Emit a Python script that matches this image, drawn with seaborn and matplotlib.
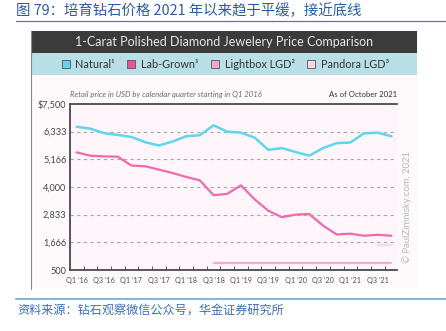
import numpy as np
import pandas as pd
import seaborn as sns
import matplotlib
matplotlib.use("Agg")
import matplotlib.pyplot as plt
from matplotlib.patches import Rectangle
from matplotlib.lines import Line2D

# ---- data -------------------------------------------------------------
quarters = ["Q1 ’16", "Q2 ’16", "Q3 ’16", "Q4 ’16",
            "Q1 ’17", "Q2 ’17", "Q3 ’17", "Q4 ’17",
            "Q1 ’18", "Q2 ’18", "Q3 ’18", "Q4 ’18",
            "Q1 ’19", "Q2 ’19", "Q3 ’19", "Q4 ’19",
            "Q1 ’20", "Q2 ’20", "Q3 ’20", "Q4 ’20",
            "Q1 ’21", "Q2 ’21", "Q3 ’21", "Q4 ’21"]
natural = [6540, 6460, 6270, 6195, 6110, 5890, 5750, 5915, 6140, 6185, 6600, 6335,
           6290, 6085, 5570, 5640, 5475, 5320, 5640, 5850, 5875, 6265, 6290, 6140]
lab_grown = [5460, 5320, 5290, 5280, 4905, 4875, 4735, 4590, 4425, 4280, 3655, 3710,
             4070, 3485, 3000, 2725, 2835, 2860, 2375, 2000, 2030, 1945, 1985, 1945]
lightbox_start = 10      # Lightbox LGD launched Q3 '18
lightbox = [800] * 14
pandora_start = 22       # Pandora LGD from Q3 '21
pandora = [1550, 1550]

series_names = ["Natural¹", "Lab-Grown¹", "Lightbox LGD²", "Pandora LGD³"]
series_colors = ["#5fd6ec", "#f06aae", "#f8a9cf", "#fbd6e7"]
square_colors = ["#5fd6ec", "#ee4f9b", "#f6a6cb", "#fbd7e6"]
series_widths = [1.8, 1.6, 1.6, 1.6]

y_ticks = [500, 1666.67, 2833.33, 4000, 5166.67, 6333.33, 7500]
y_tick_labels = ["500", "1,666", "2,833", "4,000", "5,166", "6,333", "$7,500"]

title_cn = "图 79：培育钻石价格 2021 年以来趋于平缓，接近底线"
source_cn = "资料来源：钻石观察微信公众号，华金证券研究所"
header = "1-Carat Polished Diamond Jewelery Price Comparison"
subtitle = "Retail price in USD by calendar quarter starting in Q1 2016"
as_of = "As of October 2021"
credit = "© PaulZimnisky.com, 2021"

frames = [
    pd.DataFrame({"q": np.arange(len(natural)), "price": natural, "series": series_names[0]}),
    pd.DataFrame({"q": np.arange(len(lab_grown)), "price": lab_grown, "series": series_names[1]}),
    pd.DataFrame({"q": lightbox_start + np.arange(len(lightbox)), "price": lightbox, "series": series_names[2]}),
    pd.DataFrame({"q": pandora_start + np.arange(len(pandora)), "price": pandora, "series": series_names[3]}),
]
df = pd.concat(frames, ignore_index=True)

# ---- style ------------------------------------------------------------
sns.set_theme(style="white")
plt.rcParams["font.family"] = ["Lato", "DejaVu Sans"]

W, H = 446, 331
fig = plt.figure(figsize=(W / 100, H / 100), dpi=100)
fig.patch.set_facecolor("white")


def fx(px):
    return px / W


def fy(py):
    return 1 - py / H


# panel with dark header and light-blue legend band
panel_l, panel_r = 31, 416.5
fig.patches.append(Rectangle((fx(panel_l), fy(288)), fx(panel_r - panel_l), (288 - 75) / H,
                             transform=fig.transFigure, facecolor="#fefafc", edgecolor="none", zorder=-10))
fig.patches.append(Rectangle((fx(panel_l), fy(53.3)), fx(panel_r - panel_l), (53.3 - 31) / H,
                             transform=fig.transFigure, facecolor="#3b3b3b", edgecolor="none", zorder=-10))
fig.patches.append(Rectangle((fx(panel_l), fy(75)), fx(panel_r - panel_l), (75 - 53.3) / H,
                             transform=fig.transFigure, facecolor="#b7dfe5", edgecolor="none", zorder=-10))
fig.lines.append(Line2D([fx(panel_l), fx(panel_l)], [fy(31), fy(289)], transform=fig.transFigure,
                        color="#8a8a8a", lw=0.8, zorder=-5))

# chinese title and source lines
fig.text(fx(16), fy(10.5), title_cn, ha="left", va="center", fontsize=10.4, color="#2a5ca8",
         family=["Noto Sans CJK SC", "DejaVu Sans"])
fig.lines.append(Line2D([fx(16), 1], [fy(20.5), fy(20.5)], transform=fig.transFigure,
                        color="#3f7fc2", lw=0.9))
fig.lines.append(Line2D([fx(16), 1], [fy(299), fy(299)], transform=fig.transFigure,
                        color="#86b6de", lw=1.5))
fig.text(fx(17), fy(311.5), source_cn, ha="left", va="center", fontsize=8.7, color="#3a6db3",
         style="italic", family=["Noto Sans CJK SC", "DejaVu Sans"])

# header and legend
fig.text(fx((panel_l + panel_r) / 2), fy(42), header, ha="center", va="center",
         fontsize=9.0, color="#e8e8e8")
handles = [Line2D([], [], marker="s", linestyle="none", markersize=5.2, markerfacecolor=c,
                  markeredgecolor="#555555", markeredgewidth=0.6) for c in square_colors]
fig.legend(handles, series_names, loc="center", bbox_to_anchor=(fx(225), fy(64.2)), ncol=4,
           frameon=False, fontsize=7.8, handlelength=0.8, handletextpad=0.5,
           columnspacing=1.1, labelcolor="#333333", borderpad=0)

# ---- chart ------------------------------------------------------------
ax_l, ax_r, ax_t, ax_b = 70, 397, 104, 270
ax = fig.add_axes([fx(ax_l), fy(ax_b), fx(ax_r - ax_l), (ax_b - ax_t) / H])
ax.set_facecolor("#fdf5f9")

for name, color, lw in zip(series_names, series_colors, series_widths):
    sns.lineplot(data=df[df["series"] == name], x="q", y="price", color=color, lw=lw,
                 legend=False, ax=ax, zorder=3)

ax.set_xlim(-0.49, 23.41)
ax.set_ylim(500, 7500)
ax.set_xlabel("")
ax.set_ylabel("")

ax.set_yticks(y_ticks)
ax.set_yticklabels(y_tick_labels)
for yv in y_ticks[1:-1]:
    ax.axhline(yv, color="#a8a8a8", lw=0.8, ls=(0, (3, 3)), zorder=1)

major = list(range(0, len(quarters), 2))
ax.set_xticks(major)
ax.set_xticklabels([quarters[i] for i in major])
ax.set_xticks(np.arange(0.5, 23, 1.0), minor=True)
ax.tick_params(axis="x", which="major", length=0, pad=5, labelsize=5.2, labelcolor="#505050")
ax.tick_params(axis="x", which="minor", direction="in", length=3, width=0.7, color="#555555",
               bottom=True)
ax.tick_params(axis="y", length=0, pad=2.5, labelsize=6.6, labelcolor="#444444")

for side in ["left", "bottom", "top"]:
    ax.spines[side].set_visible(True)
    ax.spines[side].set_color("#4a4a4a")
    ax.spines[side].set_linewidth(1.3)
ax.spines["right"].set_visible(False)

fig.text(fx(ax_l), fy(94), subtitle, ha="left", va="center", fontsize=5.6, style="italic",
         color="#6a6a6a")
fig.text(fx(ax_r), fy(94), as_of, ha="right", va="center", fontsize=5.6, color="#333333")
fig.text(fx(407), fy(207), credit, rotation=90, ha="center", va="center", fontsize=6.8,
         color="#b5b5b5")

fig.savefig("out.png", dpi=100)
